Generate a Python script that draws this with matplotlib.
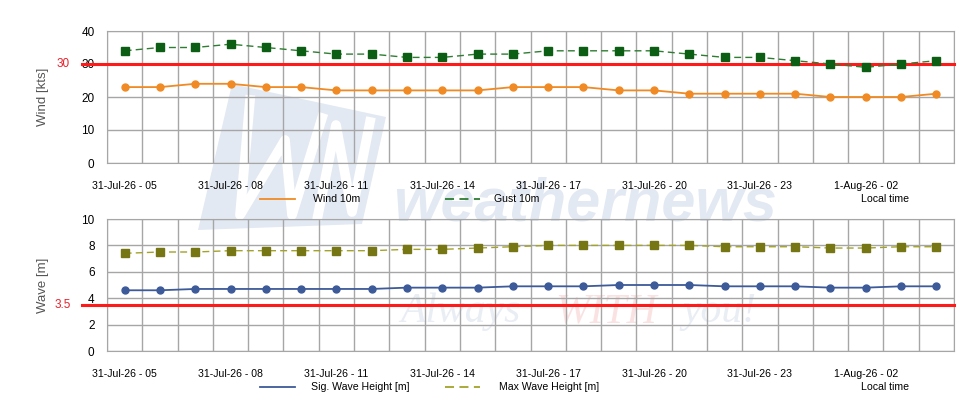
import numpy as np
import matplotlib
matplotlib.use("Agg")
import matplotlib.pyplot as plt
from matplotlib.lines import Line2D
from matplotlib.patches import Polygon

plt.rcParams['font.family'] = ['Liberation Sans', 'DejaVu Sans']

# hourly forecast, 31-Jul-26 05 -> 1-Aug-26 04
hours = ['31-Jul-26 - 05', '31-Jul-26 - 06', '31-Jul-26 - 07', '31-Jul-26 - 08',
         '31-Jul-26 - 09', '31-Jul-26 - 10', '31-Jul-26 - 11', '31-Jul-26 - 12',
         '31-Jul-26 - 13', '31-Jul-26 - 14', '31-Jul-26 - 15', '31-Jul-26 - 16',
         '31-Jul-26 - 17', '31-Jul-26 - 18', '31-Jul-26 - 19', '31-Jul-26 - 20',
         '31-Jul-26 - 21', '31-Jul-26 - 22', '31-Jul-26 - 23', '1-Aug-26 - 00',
         '1-Aug-26 - 01', '1-Aug-26 - 02', '1-Aug-26 - 03', '1-Aug-26 - 04']
wind = [23, 23, 24, 24, 23, 23, 22, 22, 22, 22, 22, 23,
        23, 23, 22, 22, 21, 21, 21, 21, 20, 20, 20, 21]
gust = [34, 35, 35, 36, 35, 34, 33, 33, 32, 32, 33, 33,
        34, 34, 34, 34, 33, 32, 32, 31, 30, 29, 30, 31]
sig_wave = [4.6, 4.6, 4.7, 4.7, 4.7, 4.7, 4.7, 4.7, 4.8, 4.8, 4.8, 4.9,
            4.9, 4.9, 5.0, 5.0, 5.0, 4.9, 4.9, 4.9, 4.8, 4.8, 4.9, 4.9]
max_wave = [7.4, 7.5, 7.5, 7.6, 7.6, 7.6, 7.6, 7.6, 7.7, 7.7, 7.8, 7.9,
            8.0, 8.0, 8.0, 8.0, 8.0, 7.9, 7.9, 7.9, 7.8, 7.8, 7.9, 7.9]
wind_limit = 30
wave_limit = 3.5

x = np.arange(len(hours))
W, H = 980, 420
fig = plt.figure(figsize=(9.8, 4.2), dpi=100)

grid_c = '#a6a6a6'


def fx(px):
    return px / W


def fy(py):
    return 1 - py / H


def px_axes(l, t, r, b):
    ax = fig.add_axes([fx(l), fy(b), (r - l) / W, (b - t) / H])
    ax.set_facecolor('none')
    return ax


def style(ax, ymax, ystep):
    ax.set_xlim(-0.5, len(hours) - 0.5)
    ax.set_ylim(0, ymax)
    ax.set_yticks(np.arange(0, ymax + 0.01, ystep))
    ax.set_xticks(x[::3])
    ax.set_xticklabels(hours[::3])
    ax.set_xticks(np.arange(-0.5, len(hours), 1), minor=True)
    ax.grid(True, which='minor', axis='x', color=grid_c, lw=1)
    ax.grid(True, which='major', axis='y', color=grid_c, lw=1)
    ax.tick_params(which='both', length=0)
    ax.tick_params(axis='x', pad=13, labelsize=7.6)
    ax.tick_params(axis='y', pad=9, labelsize=8.5)
    for s in ax.spines.values():
        s.set_color(grid_c)
    ax.set_axisbelow(True)


# ---- faint watermark (behind the transparent axes)
wm = '#e3e9f2'
logo = [(232, 84), (386, 117), (362, 224), (198, 230)]
fig.patches.append(Polygon([(fx(a), fy(b)) for a, b in logo], closed=True,
                           transform=fig.transFigure, fc=wm, ec='none', zorder=-3))
for stroke in ([(250, 100), (240, 215), (285, 140), (292, 215), (322, 118)],
               [(318, 215), (336, 125), (352, 212), (370, 122)]):
    fig.add_artist(Line2D([fx(a) for a, b in stroke], [fy(b) for a, b in stroke],
                          color='white', lw=7, transform=fig.transFigure, zorder=-2))
fig.text(fx(585), fy(205), 'weathernews', fontsize=44, fontweight='bold',
         style='italic', color=wm, ha='center', va='center', zorder=-2)
fig.text(fx(400), fy(312), 'Always', fontsize=30, family='Liberation Serif',
         style='italic', color='#e9edf4', ha='left', va='center', zorder=-2)
fig.text(fx(555), fy(312), 'WITH', fontsize=30, family='Liberation Serif',
         style='italic', color='#fae2e2', ha='left', va='center', zorder=-2)
fig.text(fx(682), fy(312), 'you!', fontsize=30, family='Liberation Serif',
         style='italic', color='#e9edf4', ha='left', va='center', zorder=-2)

# ---- wind panel
ax1 = px_axes(107, 31, 954, 163)
style(ax1, 40, 10)
ax1.plot(x, wind, color='#f08a24', lw=1.3, marker='o', ms=5, zorder=4)
ax1.plot(x, gust, color='#2e7d32', lw=1, ls=(0, (5, 3)), marker='s', ms=5.5,
         mfc='#0b5e14', mec='#0b5e14', zorder=4)
ax1.axhline(wind_limit, xmin=-0.03, color='#ff1a1a', lw=2.2, clip_on=False, zorder=3)
ax1.text(-0.052, wind_limit, str(wind_limit), transform=ax1.get_yaxis_transform(),
         color='#e8202a', fontsize=8.5, ha='center', va='center')
fig.text(fx(43), fy(97), 'Wind [kts]', rotation=90, ha='center', va='center',
         color='#555555', fontsize=9.5)

# ---- wave panel
ax2 = px_axes(107, 219, 954, 351)
style(ax2, 10, 2)
ax2.plot(x, sig_wave, color='#3d5a99', lw=1.3, marker='o', ms=5, zorder=4)
ax2.plot(x, max_wave, color='#a3a32a', lw=1, ls=(0, (5, 3)), marker='s', ms=5.5,
         mfc='#767614', mec='#767614', zorder=4)
ax2.axhline(wave_limit, xmin=-0.03, color='#ff1a1a', lw=2.2, clip_on=False, zorder=3)
ax2.text(-0.052, wave_limit, str(wave_limit), transform=ax2.get_yaxis_transform(),
         color='#e8202a', fontsize=8.5, ha='center', va='center')
fig.text(fx(43), fy(285), 'Wave [m]', rotation=90, ha='center', va='center',
         color='#555555', fontsize=9.5)


# ---- legends (drawn by hand, pixel layout)
def legend_item(x0, y, color, ls, label, tx):
    fig.add_artist(Line2D([fx(x0), fx(x0 + 35)], [fy(y), fy(y)],
                          color=color, lw=1.3, ls=ls, transform=fig.transFigure))
    fig.text(fx(tx), fy(y), label, fontsize=7.6, va='center', ha='left')


legend_item(260, 199, '#f08a24', '-', 'Wind 10m', 313)
legend_item(445, 199, '#2e7d32', (0, (5, 3)), 'Gust 10m', 494)
fig.text(fx(885), fy(199), 'Local time', fontsize=7.6, va='center', ha='center')
legend_item(260, 387, '#3d5a99', '-', 'Sig. Wave Height [m]', 311)
legend_item(445, 387, '#a3a32a', (0, (5, 3)), 'Max Wave Height [m]', 499)
fig.text(fx(885), fy(387), 'Local time', fontsize=7.6, va='center', ha='center')

plt.savefig('out.png', dpi=100)
